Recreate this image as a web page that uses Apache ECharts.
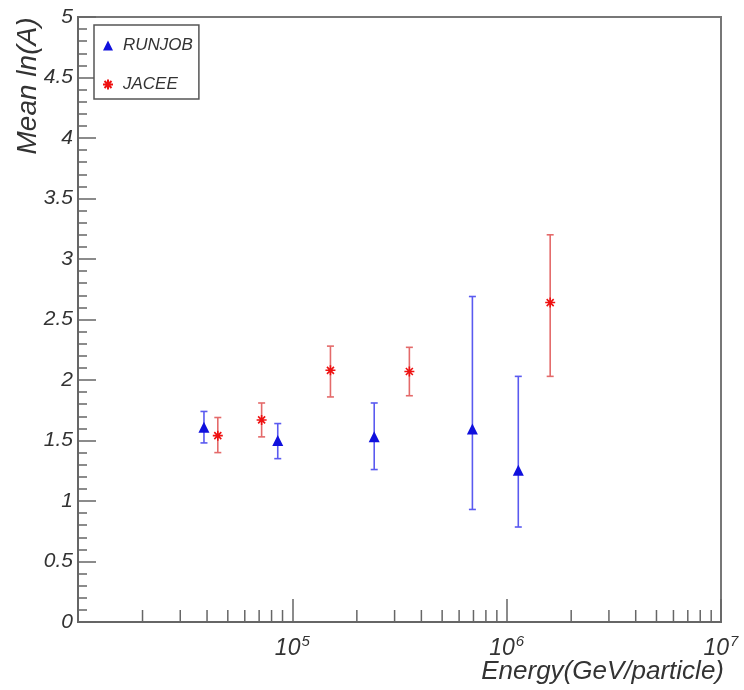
<!DOCTYPE html>
<html>
<head>
<meta charset="utf-8">
<script src="https://cdn.jsdelivr.net/npm/echarts@6/dist/echarts.min.js"></script>
<style>html,body{margin:0;padding:0;background:#fff;}#c{width:744px;height:690px;}</style>
</head>
<body>
<div id="c"></div>
<script>
// RUNJOB data
var runjobEnergy = [38700, 85500, 241000, 692000, 1133000];
var runjobMean   = [1.61, 1.50, 1.53, 1.595, 1.255];
var runjobLow    = [1.48, 1.35, 1.26, 0.93, 0.785];
var runjobHigh   = [1.74, 1.64, 1.81, 2.69, 2.03];
// JACEE data
var jaceeEnergy = [44900, 71900, 150600, 351600, 1596000];
var jaceeMean   = [1.54, 1.67, 2.08, 2.07, 2.64];
var jaceeLow    = [1.40, 1.53, 1.86, 1.87, 2.03];
var jaceeHigh   = [1.69, 1.81, 2.28, 2.27, 3.20];
// axis ticks
var xMinorTicks = [2e4,3e4,4e4,5e4,6e4,7e4,8e4,9e4,
                   2e5,3e5,4e5,5e5,6e5,7e5,8e5,9e5,
                   2e6,3e6,4e6,5e6,6e6,7e6,8e6,9e6];
var xLabelExponents = [5, 6, 7];

var FONT = '"Liberation Sans", Arial, Helvetica, sans-serif';
var asteriskPath = 'path://M5,0L5,10M0,5L10,5M1.5,1.5L8.5,8.5M8.5,1.5L1.5,8.5';

function zip3(a, b, c) { return a.map(function (v, i) { return [v, b[i], c[i]]; }); }
function zip2(a, b) { return a.map(function (v, i) { return [v, b[i]]; }); }

function errorRender(color) {
  return function (params, api) {
    var x = api.value(0);
    var lo = api.coord([x, api.value(1)]);
    var hi = api.coord([x, api.value(2)]);
    var cw = 3.5;
    var st = { stroke: color, lineWidth: 1.6 };
    return {
      type: 'group',
      children: [
        { type: 'line', shape: { x1: lo[0], y1: lo[1], x2: hi[0], y2: hi[1] }, style: st },
        { type: 'line', shape: { x1: lo[0] - cw, y1: lo[1], x2: lo[0] + cw, y2: lo[1] }, style: st },
        { type: 'line', shape: { x1: hi[0] - cw, y1: hi[1], x2: hi[0] + cw, y2: hi[1] }, style: st }
      ]
    };
  };
}

var chart = echarts.init(document.getElementById('c'), null, { renderer: 'canvas' });
chart.setOption({
  animation: false,
  backgroundColor: '#fff',
  grid: { left: 78, right: 23, top: 17, bottom: 68, show: true, borderColor: '#777', borderWidth: 2, backgroundColor: 'transparent' },
  xAxis: {
    type: 'log', logBase: 10, min: 1e4, max: 1e7,
    axisLine: { show: true, onZero: false, lineStyle: { color: '#666', width: 2 } },
    axisTick: { show: true, inside: true, length: 23, lineStyle: { color: '#666', width: 1.5 } },
    splitLine: { show: false },
    axisLabel: {
      show: true, margin: 12,
      formatter: function (v) {
        var e = Math.round(Math.log10(v));
        if (xLabelExponents.indexOf(e) < 0) return '';
        return '{b|10}{s|' + e + '}';
      },
      rich: {
        b: { fontFamily: FONT, fontStyle: 'italic', fontSize: 23, color: '#333', lineHeight: 26, verticalAlign: 'bottom' },
        s: { fontFamily: FONT, fontStyle: 'italic', fontSize: 15, color: '#333', lineHeight: 26, verticalAlign: 'top', padding: [0, 0, 0, 1] }
      }
    }
  },
  yAxis: {
    type: 'value', min: 0, max: 5, interval: 0.5,
    axisLine: { show: true, lineStyle: { color: '#666', width: 2 } },
    axisTick: { show: true, inside: true, length: 18, lineStyle: { color: '#666', width: 1.5 } },
    minorTick: { show: true, splitNumber: 5, length: 9, lineStyle: { color: '#666', width: 1.5 } },
    splitLine: { show: false },
    axisLabel: { margin: 5, fontFamily: FONT, fontStyle: 'italic', fontSize: 21, color: '#333' }
  },
  legend: {
    data: ['RUNJOB', 'JACEE'],
    orient: 'vertical', left: 94, top: 25,
    padding: [12, 6, 6, 8],
    itemGap: 22, itemWidth: 10, itemHeight: 10,
    borderColor: '#555', borderWidth: 1.5, backgroundColor: '#fff',
    textStyle: { fontFamily: FONT, fontStyle: 'italic', fontSize: 17, color: '#333', lineHeight: 17, padding: [0, 0, 0, 5] }
  },
  graphic: [
    { type: 'text', x: 28, y: 86, rotation: Math.PI / 2,
      style: { text: 'Mean ln(A)', fontFamily: FONT, fontStyle: 'italic', fontSize: 28, fill: '#333', align: 'center', verticalAlign: 'middle' } },
    { type: 'text', right: 20, top: 659,
      style: { text: 'Energy(GeV/particle)', fontFamily: FONT, fontStyle: 'italic', fontSize: 26, fill: '#333' } }
  ],
  series: [
    {
      name: 'xMinorTicks', type: 'custom', silent: true, clip: false,
      data: xMinorTicks.map(function (v) { return [v, 0]; }),
      renderItem: function (params, api) {
        var p = api.coord([api.value(0), 0]);
        return { type: 'line', shape: { x1: p[0], y1: p[1], x2: p[0], y2: p[1] - 12 }, style: { stroke: '#666', lineWidth: 1.5 } };
      },
      z: 1
    },
    {
      name: 'RUNJOB err', type: 'custom', silent: true,
      data: zip3(runjobEnergy, runjobLow, runjobHigh),
      renderItem: errorRender('#5a5af0'), z: 2
    },
    {
      name: 'JACEE err', type: 'custom', silent: true,
      data: zip3(jaceeEnergy, jaceeLow, jaceeHigh),
      renderItem: errorRender('#e46a6a'), z: 2
    },
    {
      name: 'RUNJOB', type: 'scatter', symbol: 'triangle', symbolSize: 11,
      itemStyle: { color: '#1010dd', opacity: 1 },
      data: zip2(runjobEnergy, runjobMean), z: 3
    },
    {
      name: 'JACEE', type: 'scatter', symbol: asteriskPath, symbolSize: 10,
      itemStyle: { color: '#ee1111', borderColor: '#ee1111', borderWidth: 1.6, opacity: 1 },
      data: zip2(jaceeEnergy, jaceeMean), z: 3
    }
  ]
});
</script>
</body>
</html>
